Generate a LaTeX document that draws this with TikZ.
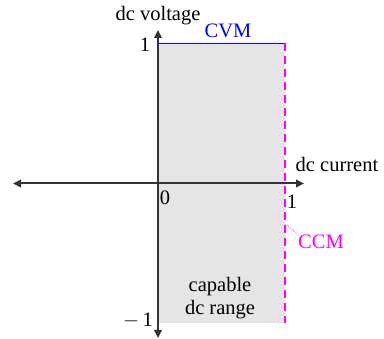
\documentclass[tikz,border=0pt]{standalone}
\usepackage{fontspec}
\setmainfont{Liberation Serif}
\usetikzlibrary{arrows.meta}
\definecolor{mag}{RGB}{255,0,255}
\definecolor{blu}{RGB}{0,0,255}
\begin{document}
\begin{tikzpicture}[x=1pt,y=-1pt,
  axis/.style={line width=2pt,draw=black!80,-{Triangle[length=8pt,width=7.5pt]}},
  lbl/.style={font=\fontsize{20.5}{23}\selectfont,inner sep=0pt}]
\useasboundingbox (0,0) rectangle (384,339);
\fill[black!10] (158,43.5) rectangle (285,323);
\coordinate (O) at (158,183.5);
\coordinate (xl) at (13,183.5);
\coordinate (xr) at (304,183.5);
\coordinate (yt) at (158,30);
\coordinate (yb) at (158,338);
\draw[axis] (O) -- (xl);
\draw[axis] (O) -- (xr);
\draw[axis] (O) -- (yt);
\draw[axis] (O) -- (yb);
\coordinate (tl) at (158,43.5);
\coordinate (tr) at (285,43.5);
\coordinate (br) at (285,323);
\draw[blu,line width=1.5pt] (tl) -- (tr);
\draw[mag,line width=1.5pt,dash pattern=on 8pt off 5pt] (tr) -- (br);
\node[lbl] (yl) at (158,16) {dc voltage};
\node[lbl,text=blu] (cvm) at (228,31) {CVM};
\node[lbl] (one) at (145,45) {1};
\node[lbl] (zero) at (165,198) {0};
\node[lbl] (onex) at (292,202) {1};
\node[lbl] (xlab) at (337,164) {dc current};
\node[lbl,text=mag] (ccm) at (321,242) {CCM};
\coordinate (c1) at (286,224);
\draw[mag,densely dotted,line width=0.6pt] (c1) -- (ccm.north west);
\node[lbl,align=center] (cap) at (220,298) {capable\\dc range};
\node[lbl] (m1) at (138,321) {$-$\,1};
\end{tikzpicture}
\end{document}
